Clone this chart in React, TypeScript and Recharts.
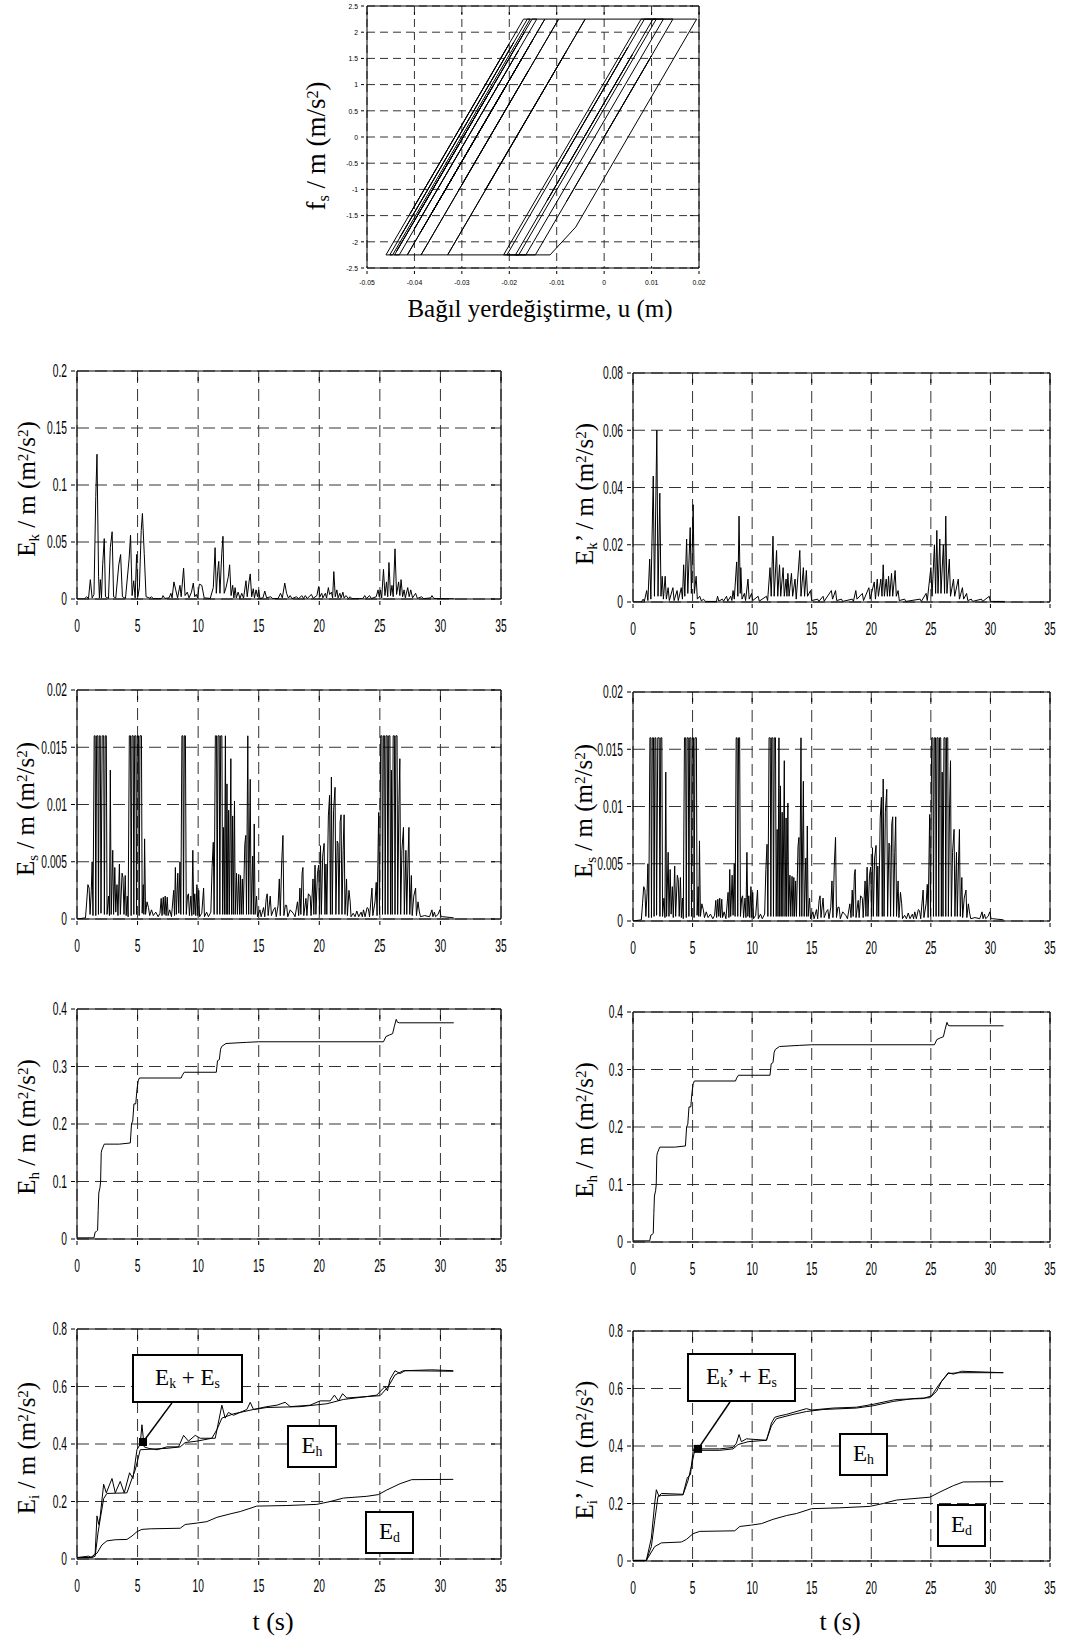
import React from 'react';
import {
  CartesianGrid,
  Line,
  LineChart,
  ReferenceArea,
  ReferenceDot,
  ReferenceLine,
  XAxis,
  YAxis,
} from 'recharts';

type Pt = [number, number];

// ---- data ----

// hysteresis turning points: u (m), fs/m (m/s2)
const hystU = [
  0, 0.01, -0.0145, -0.046, -0.02, -0.0409, -0.017, -0.0156, -0.0446, -0.0452, -0.0191, -0.0431,
  -0.0162, -0.0142, -0.04, -0.018, -0.0432, -0.0442, -0.0235, -0.0437, -0.0168, -0.0395, -0.0152,
  -0.0125, -0.0388, -0.0205, -0.0415, -0.015, -0.036, -0.0172, -0.037, -0.0125, -0.0096, -0.0386, -0.016,
  -0.03, -0.0096, -0.004, -0.033, -0.008, -0.025, -0.004, 0.0195, -0.006, -0.0114, -0.0212, 0.0078,
  0.0125, -0.0165, -0.0187, 0.006, -0.012, 0.0103, 0.011, -0.018, -0.0205, 0.005, -0.01, 0.0085, 0.0145,
  -0.008,
];
const hystF = [
  0, 1.55, -2.25, -2.25, 1.78, -1.46, 2.25, 2.25, -2.25, -2.25, 1.8, -1.92, 2.25, 2.25, -1.75, 1.66,
  -2.25, -2.25, 0.96, -2.17, 2.0, -1.52, 2.25, 2.25, -1.83, 1.0, -2.25, 1.86, -1.4, 1.52, -1.55, 2.25,
  2.25, -2.25, 1.26, -0.91, 2.25, 2.25, -2.25, 1.63, -1.0, 2.25, 2.25, -1.72, -2.25, -2.25, 2.25, 2.25,
  -2.25, -2.25, 1.58, -1.21, 2.25, 2.25, -2.25, -2.25, 1.71, -0.62, 2.25, 2.25, -1.24,
];

const timeTicks = [0, 5, 10, 15, 20, 25, 30, 35];
const hystUTicks = [-0.05, -0.04, -0.03, -0.02, -0.01, 0, 0.01, 0.02];
const hystFTicks = [-2.5, -2, -1.5, -1, -0.5, 0, 0.5, 1, 1.5, 2, 2.5];
const ekTicks = [0, 0.05, 0.1, 0.15, 0.2];
const ekpTicks = [0, 0.02, 0.04, 0.06, 0.08];
const esTicks = [0, 0.005, 0.01, 0.015, 0.02];
const ehTicks = [0, 0.1, 0.2, 0.3, 0.4];
const eiTicks = [0, 0.2, 0.4, 0.6, 0.8];

const ekPts: Pt[] = [
  [0, 0], [0.6, 0], [0.8, 0.002], [0.95, 0.0005], [1.1, 0.017], [1.25, 0.001], [1.4, 0.004], [1.55, 0.09],
  [1.65, 0.127], [1.78, 0.02], [1.85, 0.001], [1.93, 0.017], [2.02, 0.001], [2.12, 0.03], [2.25, 0.053],
  [2.35, 0.002], [2.6, 0.0005], [2.75, 0.045], [2.9, 0.059], [3.02, 0.002], [3.2, 0.001], [3.45, 0.03],
  [3.6, 0.039], [3.75, 0.002], [4.0, 0.0005], [4.3, 0.035], [4.42, 0.056], [4.55, 0.003], [4.68, 0.016],
  [4.8, 0.001], [4.92, 0.039], [5.02, 0.002], [5.15, 0.01], [5.3, 0.06], [5.4, 0.075], [5.55, 0.04],
  [5.7, 0.002], [6.0, 0.0008], [6.15, 0.002], [6.3, 0.0003], [7.0, 0.0003], [7.1, 0.003], [7.25, 0.0005],
  [7.6, 0.001], [7.75, 0.005], [7.85, 0.001], [8.0, 0.015], [8.15, 0.008], [8.3, 0.001], [8.5, 0.012],
  [8.6, 0.002], [8.8, 0.027], [8.92, 0.003], [9.1, 0.006], [9.25, 0.001], [9.45, 0.006], [9.6, 0.014],
  [9.72, 0.002], [9.85, 0.004], [9.95, 0.001], [10.1, 0.013], [10.3, 0.012], [10.5, 0.001], [11.0, 0.0005],
  [11.25, 0.01], [11.4, 0.045], [11.5, 0.005], [11.62, 0.025], [11.7, 0.033], [11.8, 0.005], [11.95, 0.04],
  [12.05, 0.055], [12.15, 0.005], [12.3, 0.01], [12.5, 0.02], [12.6, 0.03], [12.72, 0.003], [12.85, 0.012],
  [12.95, 0.001], [13.05, 0.01], [13.15, 0.001], [13.3, 0.006], [13.45, 0.0005], [13.6, 0.005],
  [13.75, 0.0008], [13.95, 0.016], [14.05, 0.002], [14.2, 0.015], [14.3, 0.022], [14.42, 0.002],
  [14.55, 0.009], [14.65, 0.001], [14.78, 0.008], [14.9, 0.002], [15.0, 0.008], [15.1, 0.0005],
  [15.35, 0.001], [15.5, 0.007], [15.65, 0.001], [16.0, 0.002], [16.15, 0.0003], [16.6, 0.0005],
  [16.8, 0.005], [16.95, 0.001], [17.15, 0.014], [17.3, 0.005], [17.45, 0.0008], [17.6, 0.003],
  [17.75, 0.0003], [18.1, 0.002], [18.3, 0.0003], [18.55, 0.003], [18.7, 0.0004], [18.85, 0.003],
  [19.0, 0.0004], [19.35, 0.004], [19.5, 0.0006], [19.8, 0.003], [19.95, 0.011], [20.05, 0.002],
  [20.2, 0.005], [20.3, 0.001], [20.5, 0.005], [20.6, 0.0008], [20.75, 0.01], [20.85, 0.004], [21.0, 0.006],
  [21.1, 0.001], [21.2, 0.024], [21.32, 0.002], [21.45, 0.008], [21.55, 0.001], [21.7, 0.005], [21.8, 0.001],
  [21.95, 0.006], [22.05, 0.0008], [22.2, 0.003], [22.4, 0.0005], [22.55, 0.002], [22.7, 0.0003],
  [23.6, 0.0003], [23.75, 0.003], [23.9, 0.0004], [24.15, 0.003], [24.3, 0.0004], [24.7, 0.002],
  [24.85, 0.008], [24.95, 0.002], [25.05, 0.008], [25.15, 0.001], [25.3, 0.026], [25.42, 0.003],
  [25.55, 0.015], [25.65, 0.002], [25.75, 0.032], [25.88, 0.003], [26.0, 0.012], [26.1, 0.002],
  [26.25, 0.044], [26.38, 0.004], [26.55, 0.015], [26.65, 0.003], [26.75, 0.017], [26.88, 0.002],
  [27.0, 0.008], [27.1, 0.001], [27.3, 0.01], [27.42, 0.002], [27.55, 0.008], [27.7, 0.001], [27.95, 0.005],
  [28.1, 0.0005], [28.45, 0.002], [28.6, 0.0003], [29.2, 0.001], [29.3, 0.003], [29.45, 0.0005],
  [30.0, 0.0003], [31.1, 0.0002],
];

const ekpPts: Pt[] = [
  [0, 0], [0.7, 0], [0.85, 0.001], [0.95, 0.0002], [1.15, 0.004], [1.25, 0.0005], [1.4, 0.015], [1.5, 0.001],
  [1.7, 0.044], [1.8, 0.002], [2.0, 0.06], [2.1, 0.002], [2.25, 0.038], [2.35, 0.002], [2.45, 0.009],
  [2.55, 0.001], [2.7, 0.009], [2.8, 0.001], [2.95, 0.005], [3.05, 0.0005], [3.35, 0.005], [3.45, 0.0005],
  [3.7, 0.004], [3.8, 0.0005], [4.05, 0.005], [4.15, 0.001], [4.25, 0.013], [4.35, 0.002], [4.5, 0.022],
  [4.6, 0.003], [4.8, 0.026], [4.9, 0.003], [5.05, 0.034], [5.15, 0.003], [5.3, 0.009], [5.4, 0.001],
  [5.6, 0.002], [5.75, 0.0003], [5.9, 0.001], [6.1, 0.0002], [7.0, 0.0002], [7.1, 0.002], [7.2, 0.0003],
  [7.5, 0.001], [7.6, 0.0003], [7.85, 0.002], [7.95, 0.0003], [8.2, 0.002], [8.3, 0.0005], [8.4, 0.004],
  [8.5, 0.001], [8.7, 0.014], [8.8, 0.002], [8.9, 0.03], [9.0, 0.003], [9.05, 0.012], [9.15, 0.001],
  [9.35, 0.003], [9.45, 0.0005], [9.65, 0.008], [9.75, 0.001], [9.95, 0.003], [10.05, 0.0005], [10.5, 0.002],
  [10.6, 0.0003], [11.2, 0.002], [11.3, 0.0005], [11.5, 0.012], [11.6, 0.002], [11.75, 0.023], [11.85, 0.002],
  [12.05, 0.018], [12.15, 0.002], [12.3, 0.013], [12.4, 0.002], [12.6, 0.012], [12.7, 0.002], [12.85, 0.008],
  [12.92, 0.002], [13.0, 0.01], [13.1, 0.002], [13.3, 0.01], [13.4, 0.002], [13.6, 0.008], [13.7, 0.001],
  [14.0, 0.018], [14.1, 0.002], [14.3, 0.012], [14.4, 0.002], [14.55, 0.011], [14.65, 0.002], [14.9, 0.004],
  [15.0, 0.0005], [15.5, 0.001], [15.6, 0.0002], [15.95, 0.002], [16.05, 0.0003], [16.65, 0.004],
  [16.75, 0.001], [17.0, 0.004], [17.1, 0.0005], [17.5, 0.001], [17.6, 0.0002], [18.4, 0.001],
  [18.5, 0.0002], [18.7, 0.004], [18.8, 0.001], [19.25, 0.003], [19.35, 0.0005], [19.8, 0.005], [19.9, 0.001],
  [20.25, 0.007], [20.35, 0.001], [20.5, 0.008], [20.6, 0.002], [20.8, 0.008], [20.9, 0.002], [21.0, 0.013],
  [21.1, 0.002], [21.25, 0.008], [21.35, 0.002], [21.45, 0.009], [21.55, 0.002], [21.7, 0.01], [21.8, 0.002],
  [22.0, 0.011], [22.1, 0.002], [22.25, 0.004], [22.35, 0.0005], [22.8, 0.001], [22.9, 0.0002],
  [24.1, 0.001], [24.2, 0.0002], [24.6, 0.003], [24.7, 0.0005], [25.0, 0.012], [25.1, 0.002], [25.3, 0.02],
  [25.4, 0.003], [25.5, 0.025], [25.6, 0.003], [25.75, 0.022], [25.85, 0.003], [26.05, 0.02], [26.15, 0.003],
  [26.25, 0.03], [26.35, 0.003], [26.55, 0.015], [26.65, 0.002], [26.9, 0.008], [27.0, 0.002], [27.3, 0.008],
  [27.4, 0.001], [27.65, 0.005], [27.75, 0.001], [28.0, 0.003], [28.1, 0.0005], [28.4, 0.001],
  [28.5, 0.0002], [29.25, 0.001], [29.35, 0.0002], [29.9, 0.002], [30.0, 0.0002], [31.2, 0.0002],
];

const esPts: Pt[] = [
  [0, 0], [0.7, 0.0001], [0.8, 0.0015], [0.9, 0.003], [1.0, 0.0027], [1.08, 0.0004], [1.18, 0.0025],
  [1.25, 0.005], [1.32, 0.0003], [1.42, 0.016], [1.5, 0.016], [1.55, 0.0003], [1.62, 0.016], [1.72, 0.016],
  [1.77, 0.0004], [1.84, 0.016], [1.92, 0.016], [1.98, 0.0005], [2.08, 0.016], [2.2, 0.016], [2.26, 0.0004],
  [2.33, 0.016], [2.42, 0.016], [2.48, 0.0004], [2.6, 0.002], [2.68, 0.0003], [2.75, 0.013], [2.82, 0.0004],
  [2.95, 0.006], [3.02, 0.0004], [3.12, 0.0045], [3.2, 0.0006], [3.3, 0.003], [3.38, 0.0003], [3.5, 0.0048],
  [3.58, 0.0004], [3.72, 0.004], [3.8, 0.0036], [3.88, 0.0004], [3.98, 0.0038], [4.06, 0.0003], [4.15, 0.002],
  [4.22, 0.0002], [4.32, 0.016], [4.42, 0.016], [4.47, 0.0003], [4.54, 0.016], [4.64, 0.016], [4.69, 0.0004],
  [4.76, 0.016], [4.86, 0.016], [4.91, 0.0004], [4.98, 0.016], [5.08, 0.016], [5.13, 0.0003], [5.2, 0.016],
  [5.32, 0.016], [5.38, 0.0005], [5.47, 0.003], [5.52, 0.0004], [5.58, 0.007], [5.66, 0.0004], [5.78, 0.0015],
  [5.9, 0.001], [6.0, 0.0003], [6.15, 0.0008], [6.3, 0.0003], [6.5, 0.0006], [6.7, 0.0002], [6.85, 0.0005],
  [6.95, 0.0018], [7.02, 0.0003], [7.12, 0.0019], [7.2, 0.0004], [7.28, 0.002], [7.35, 0.0003],
  [7.45, 0.0019], [7.52, 0.0003], [7.65, 0.0008], [7.8, 0.0002], [7.98, 0.0025], [8.05, 0.0003],
  [8.12, 0.0045], [8.2, 0.0004], [8.32, 0.004], [8.4, 0.0005], [8.5, 0.005], [8.57, 0.0004], [8.66, 0.016],
  [8.74, 0.016], [8.79, 0.0004], [8.86, 0.016], [8.95, 0.016], [9.02, 0.0004], [9.12, 0.002], [9.2, 0.0022],
  [9.28, 0.0003], [9.4, 0.002], [9.48, 0.0003], [9.56, 0.006], [9.64, 0.0004], [9.72, 0.0022], [9.8, 0.0003],
  [9.9, 0.003], [9.97, 0.0003], [10.05, 0.0025], [10.12, 0.0002], [10.3, 0.0005], [10.45, 0.0027],
  [10.52, 0.0002], [10.7, 0.0006], [10.85, 0.0002], [11.05, 0.0006], [11.15, 0.0045], [11.25, 0.0067],
  [11.32, 0.0004], [11.42, 0.016], [11.52, 0.016], [11.57, 0.0004], [11.64, 0.016], [11.74, 0.016],
  [11.79, 0.0004], [11.86, 0.016], [11.96, 0.016], [12.02, 0.0004], [12.1, 0.008], [12.17, 0.0004],
  [12.25, 0.016], [12.31, 0.0004], [12.38, 0.0118], [12.44, 0.0004], [12.52, 0.0095], [12.58, 0.0004],
  [12.7, 0.014], [12.76, 0.0004], [12.85, 0.009], [12.9, 0.0004], [13.0, 0.0103], [13.06, 0.0004],
  [13.17, 0.004], [13.24, 0.0004], [13.35, 0.0039], [13.42, 0.0004], [13.5, 0.0038], [13.56, 0.0004],
  [13.65, 0.0035], [13.72, 0.0004], [13.85, 0.0065], [13.93, 0.0073], [13.99, 0.0004], [14.1, 0.016],
  [14.17, 0.0004], [14.3, 0.0122], [14.37, 0.0004], [14.5, 0.0055], [14.56, 0.0004], [14.63, 0.0083],
  [14.7, 0.0004], [14.82, 0.002], [14.9, 0.0002], [15.1, 0.0008], [15.2, 0.0002], [15.4, 0.001],
  [15.5, 0.0002], [15.62, 0.0018], [15.7, 0.0022], [15.78, 0.0003], [15.95, 0.002], [16.05, 0.0003],
  [16.22, 0.0008], [16.35, 0.001], [16.45, 0.0002], [16.6, 0.0012], [16.7, 0.0035], [16.78, 0.0003],
  [16.9, 0.005], [17.0, 0.0073], [17.08, 0.0003], [17.2, 0.0012], [17.3, 0.0012], [17.4, 0.0002],
  [17.6, 0.0008], [17.85, 0.0005], [18.0, 0.0002], [18.2, 0.0015], [18.3, 0.0003], [18.4, 0.0027],
  [18.48, 0.0004], [18.58, 0.004], [18.65, 0.0045], [18.72, 0.0003], [18.9, 0.0018], [18.98, 0.0003],
  [19.1, 0.0022], [19.25, 0.002], [19.32, 0.0003], [19.48, 0.0035], [19.55, 0.0004], [19.65, 0.0047],
  [19.72, 0.0004], [19.85, 0.004], [19.95, 0.0047], [20.02, 0.0004], [20.1, 0.0064], [20.17, 0.0004],
  [20.28, 0.0055], [20.4, 0.0066], [20.47, 0.0004], [20.55, 0.0048], [20.62, 0.0004], [20.75, 0.009],
  [20.85, 0.0108], [20.92, 0.0004], [21.0, 0.0124], [21.07, 0.0004], [21.18, 0.0095], [21.3, 0.0115],
  [21.37, 0.0004], [21.48, 0.0068], [21.55, 0.0066], [21.62, 0.0004], [21.72, 0.0085], [21.8, 0.0091],
  [21.87, 0.0004], [21.97, 0.006], [22.05, 0.0091], [22.12, 0.0004], [22.25, 0.0035], [22.32, 0.0003],
  [22.45, 0.0025], [22.55, 0.0015], [22.62, 0.0002], [22.8, 0.0005], [22.95, 0.0002], [23.1, 0.0007],
  [23.25, 0.0002], [23.45, 0.0006], [23.55, 0.0002], [23.65, 0.0008], [23.78, 0.0002], [23.95, 0.001],
  [24.05, 0.0009], [24.15, 0.0002], [24.35, 0.0027], [24.42, 0.0003], [24.6, 0.0015], [24.7, 0.0032],
  [24.77, 0.0003], [24.9, 0.0093], [24.97, 0.0004], [25.07, 0.016], [25.17, 0.016], [25.22, 0.0004],
  [25.29, 0.016], [25.39, 0.016], [25.44, 0.0004], [25.51, 0.016], [25.61, 0.016], [25.66, 0.0004],
  [25.73, 0.016], [25.83, 0.016], [25.88, 0.0004], [25.95, 0.013], [26.02, 0.0004], [26.1, 0.016],
  [26.2, 0.016], [26.25, 0.0004], [26.32, 0.016], [26.42, 0.016], [26.47, 0.0004], [26.57, 0.01],
  [26.65, 0.014], [26.72, 0.0004], [26.82, 0.006], [26.95, 0.008], [27.02, 0.0004], [27.15, 0.006],
  [27.22, 0.0004], [27.32, 0.005], [27.4, 0.008], [27.47, 0.0004], [27.6, 0.0038], [27.67, 0.0003],
  [27.8, 0.002], [27.95, 0.0027], [28.02, 0.0003], [28.15, 0.0015], [28.25, 0.0007], [28.35, 0.0002],
  [28.7, 0.0003], [29.1, 0.0002], [29.3, 0.0008], [29.38, 0.0002], [29.5, 0.0006], [29.6, 0.0002],
  [29.8, 0.0004], [29.95, 0.0008], [30.05, 0.0002], [30.2, 0.0002], [31.1, 0.0001],
];

const ehPts: Pt[] = [
  [0, 0.002], [1.4, 0.002], [1.5, 0.012], [1.6, 0.013], [1.7, 0.015], [1.75, 0.05], [1.8, 0.08], [1.9, 0.09],
  [1.95, 0.1], [2.0, 0.15], [2.05, 0.155], [2.15, 0.16], [2.25, 0.165], [3.5, 0.165], [4.4, 0.167],
  [4.5, 0.2], [4.6, 0.205], [4.7, 0.235], [4.85, 0.235], [4.95, 0.26], [5.05, 0.275], [5.15, 0.28],
  [8.6, 0.28], [8.7, 0.285], [8.85, 0.29], [11.5, 0.29], [11.6, 0.31], [11.75, 0.312], [11.85, 0.33],
  [11.95, 0.335], [12.3, 0.34], [14.0, 0.342], [15.0, 0.343], [25.3, 0.343], [25.5, 0.352], [25.8, 0.355],
  [26.05, 0.357], [26.2, 0.37], [26.35, 0.382], [26.45, 0.377], [26.6, 0.376], [31.1, 0.376],
];

// input energy plots (left: Ek + Es, right: Ek' + Es)
const edLeft: Pt[] = [
  [0, 0.005], [1.1, 0.005], [1.65, 0.02], [2.06, 0.049], [2.47, 0.063], [3.16, 0.067], [4.12, 0.068],
  [4.54, 0.08], [4.95, 0.095], [5.36, 0.103], [6.05, 0.105], [8.52, 0.107], [8.93, 0.12], [9.9, 0.125],
  [10.72, 0.13], [11.55, 0.145], [12.65, 0.157], [13.47, 0.165], [14.84, 0.184], [17.32, 0.186],
  [19.79, 0.19], [20.9, 0.2], [22.0, 0.212], [23.92, 0.218], [24.88, 0.224], [25.57, 0.24], [26.67, 0.262],
  [27.63, 0.276], [31.06, 0.277],
];
const ehdLeft: Pt[] = [
  [0, 0.005], [1.24, 0.005], [1.5, 0.01], [1.73, 0.09], [1.92, 0.14], [2.2, 0.21], [2.47, 0.228],
  [4.12, 0.23], [4.54, 0.28], [4.81, 0.31], [5.22, 0.38], [7.42, 0.385], [8.52, 0.39], [8.93, 0.405],
  [9.9, 0.41], [11.13, 0.42], [11.55, 0.45], [11.96, 0.49], [12.92, 0.505], [14.57, 0.52], [15.67, 0.527],
  [18.42, 0.53], [20.62, 0.54], [22.0, 0.555], [23.92, 0.565], [25.02, 0.568], [25.7, 0.6], [26.25, 0.64],
  [26.94, 0.655], [31.06, 0.653],
];
const eiLeft: Pt[] = [
  [0, 0.005], [0.96, 0.01], [1.24, 0.005], [1.5, 0.02], [1.65, 0.15], [1.79, 0.12], [1.92, 0.15],
  [2.2, 0.26], [2.42, 0.23], [2.89, 0.28], [3.16, 0.23], [3.57, 0.27], [3.9, 0.23], [4.34, 0.3],
  [4.62, 0.28], [4.95, 0.38], [5.22, 0.4], [5.36, 0.467], [5.55, 0.39], [5.9, 0.385], [6.6, 0.38],
  [7.42, 0.39], [8.38, 0.39], [8.8, 0.43], [9.2, 0.41], [9.76, 0.43], [10.17, 0.42], [11.0, 0.42],
  [11.41, 0.42], [11.96, 0.535], [12.23, 0.49], [12.5, 0.51], [12.92, 0.5], [13.47, 0.51], [14.02, 0.52],
  [14.3, 0.545], [14.57, 0.52], [15.67, 0.53], [16.5, 0.535], [17.18, 0.545], [17.6, 0.53], [19.24, 0.535],
  [20.07, 0.55], [20.9, 0.55], [21.25, 0.57], [21.58, 0.55], [21.93, 0.575], [22.27, 0.56], [23.92, 0.565],
  [24.74, 0.57], [25.43, 0.6], [25.63, 0.585], [25.84, 0.625], [26.25, 0.655], [26.67, 0.645],
  [27.08, 0.655], [29.28, 0.658], [31.06, 0.655],
];

const edRight: Pt[] = [
  [0, 0.002], [1.12, 0.002], [1.82, 0.05], [2.38, 0.063], [4.06, 0.066], [4.48, 0.075], [5.04, 0.095],
  [5.6, 0.103], [8.54, 0.105], [8.96, 0.12], [9.94, 0.125], [10.78, 0.13], [11.76, 0.145], [12.88, 0.158],
  [13.72, 0.165], [14.98, 0.182], [17.36, 0.185], [19.88, 0.19], [21.0, 0.2], [22.12, 0.212],
  [24.92, 0.222], [25.76, 0.24], [26.88, 0.262], [27.72, 0.275], [31.08, 0.276],
];
const ehdRight: Pt[] = [
  [0, 0.002], [1.12, 0.002], [1.54, 0.05], [1.82, 0.14], [2.1, 0.225], [2.38, 0.228], [4.2, 0.23],
  [4.62, 0.28], [4.9, 0.33], [5.18, 0.385], [7.28, 0.385], [8.4, 0.39], [8.82, 0.405], [9.66, 0.415],
  [11.2, 0.42], [11.62, 0.47], [12.04, 0.495], [13.44, 0.51], [14.56, 0.52], [15.96, 0.527], [18.76, 0.532],
  [20.16, 0.54], [21.84, 0.555], [23.52, 0.565], [24.92, 0.568], [25.48, 0.59], [25.9, 0.625],
  [26.46, 0.652], [27.44, 0.655], [31.08, 0.655],
];
const eiRight: Pt[] = [
  [0, 0.002], [1.12, 0.002], [1.54, 0.08], [1.82, 0.2], [1.96, 0.248], [2.18, 0.225], [2.38, 0.235],
  [4.2, 0.232], [4.56, 0.29], [4.82, 0.3], [5.04, 0.38], [5.18, 0.4], [5.46, 0.39], [7.28, 0.39],
  [8.4, 0.395], [8.68, 0.41], [8.9, 0.44], [9.1, 0.415], [9.52, 0.425], [11.2, 0.42], [11.62, 0.48],
  [11.9, 0.5], [12.32, 0.505], [12.88, 0.51], [14.56, 0.53], [14.98, 0.525], [16.8, 0.532], [18.76, 0.535],
  [20.16, 0.545], [21.84, 0.56], [22.26, 0.562], [24.36, 0.565], [25.06, 0.575], [25.62, 0.61],
  [26.18, 0.64], [26.46, 0.655], [26.88, 0.65], [27.58, 0.66], [31.08, 0.655],
];

// ---- drawing ----

const SERIF = "'Liberation Serif', 'Times New Roman', serif";
const SANS = "'Liberation Sans', Arial, sans-serif";
const PAD_L = 70;
const PAD_T = 12;
const PAD_R = 12;
const PAD_B = 40;

const fmt = (v: number) => String(parseFloat(v.toFixed(4)));

type TickStyle = { fs: number; sx: number; xGap: number; yGap: number; len: number };
const bigTicks: TickStyle = { fs: 18, sx: 0.57, xGap: 27, yGap: 4, len: 4 };
const smallTicks: TickStyle = { fs: 8, sx: 0.85, xGap: 11, yGap: 3, len: 3 };

function xTick(plotH: number, s: TickStyle) {
  return (props: any) => {
    const { x, y, payload } = props;
    return (
      <g>
        <line x1={x} x2={x} y1={y} y2={y - s.len} stroke="#000" />
        <line x1={x} x2={x} y1={y - plotH} y2={y - plotH + s.len} stroke="#000" />
        <text
          transform={`translate(${x} ${y + s.xGap}) scale(${s.sx} 1)`}
          textAnchor="middle"
          fontSize={s.fs}
          fontFamily={SANS}
          fill="#000"
        >
          {fmt(payload.value)}
        </text>
      </g>
    );
  };
}

function yTick(plotW: number, s: TickStyle) {
  return (props: any) => {
    const { x, y, payload } = props;
    return (
      <g>
        <line x1={x} x2={x + s.len} y1={y} y2={y} stroke="#000" />
        <line x1={x + plotW} x2={x + plotW - s.len} y1={y} y2={y} stroke="#000" />
        <text
          transform={`translate(${x - s.yGap} ${y + s.fs * 0.36}) scale(${s.sx} 1)`}
          textAnchor="end"
          fontSize={s.fs}
          fontFamily={SANS}
          fill="#000"
        >
          {fmt(payload.value)}
        </text>
      </g>
    );
  };
}

type PanelProps = {
  box: [number, number, number, number];
  xDomain: [number, number];
  xTicks: number[];
  yDomain: [number, number];
  yTicks: number[];
  series: Pt[][];
  ticks?: TickStyle;
  dash?: string;
  extra?: React.ReactNode;
};

function Panel({ box, xDomain, xTicks, yDomain, yTicks, series, ticks = bigTicks, dash = '12 6', extra }: PanelProps) {
  const [L, T, W, H] = box;
  return (
    <div style={{ position: 'absolute', left: L - PAD_L, top: T - PAD_T }}>
      <LineChart
        width={W + PAD_L + PAD_R}
        height={H + PAD_T + PAD_B}
        margin={{ top: PAD_T, right: PAD_R, bottom: 0, left: 0 }}
      >
        <CartesianGrid stroke="#333" strokeDasharray={dash} />
        <XAxis
          type="number"
          dataKey="x"
          domain={xDomain}
          ticks={xTicks}
          interval={0}
          allowDataOverflow
          height={PAD_B}
          tickLine={false}
          axisLine={false}
          tickMargin={0}
          tick={xTick(H, ticks)}
        />
        <YAxis
          type="number"
          domain={yDomain}
          ticks={yTicks}
          interval={0}
          allowDataOverflow
          width={PAD_L}
          tickLine={false}
          axisLine={false}
          tickMargin={0}
          tick={yTick(W, ticks)}
        />
        {series.map((pts, i) => (
          <Line
            key={i}
            data={pts.map(([x, y]) => ({ x, y }))}
            dataKey="y"
            type="linear"
            stroke="#000"
            strokeWidth={1}
            dot={false}
            isAnimationActive={false}
          />
        ))}
        <ReferenceArea
          x1={xDomain[0]}
          x2={xDomain[1]}
          y1={yDomain[0]}
          y2={yDomain[1]}
          fill="none"
          fillOpacity={0}
          stroke="#000"
          strokeWidth={1}
          ifOverflow="visible"
        />
        {extra}
      </LineChart>
    </div>
  );
}

function YLabel({ cx, cy, size = 25, children }: { cx: number; cy: number; size?: number; children: React.ReactNode }) {
  return (
    <div
      style={{
        position: 'absolute',
        left: cx,
        top: cy,
        transform: 'translate(-50%, -50%) rotate(-90deg)',
        whiteSpace: 'nowrap',
        fontFamily: SERIF,
        fontSize: size,
        lineHeight: 1,
      }}
    >
      {children}
    </div>
  );
}

function TextAt({ cx, cy, size = 26, children }: { cx: number; cy: number; size?: number; children: React.ReactNode }) {
  return (
    <div
      style={{
        position: 'absolute',
        left: cx,
        top: cy,
        transform: 'translate(-50%, -50%)',
        whiteSpace: 'nowrap',
        fontFamily: SERIF,
        fontSize: size,
        lineHeight: 1,
      }}
    >
      {children}
    </div>
  );
}

function NoteBox({ l, t, w, h, children }: { l: number; t: number; w: number; h: number; children: React.ReactNode }) {
  return (
    <div
      style={{
        position: 'absolute',
        left: l,
        top: t,
        width: w,
        height: h,
        boxSizing: 'border-box',
        border: '2px solid #000',
        background: '#fff',
        display: 'flex',
        alignItems: 'center',
        justifyContent: 'center',
        fontFamily: SERIF,
        fontSize: 23,
        whiteSpace: 'nowrap',
      }}
    >
      <span style={{ lineHeight: 1 }}>{children}</span>
    </div>
  );
}

const sub = (s: string) => <sub style={{ fontSize: '0.6em', verticalAlign: '-0.25em' }}>{s}</sub>;
const sup = (s: string) => <sup style={{ fontSize: '0.6em', verticalAlign: '0.45em' }}>{s}</sup>;
const unit = <>(m{sup('2')}/s{sup('2')})</>;

function pointer(from: Pt, to: Pt) {
  return [
    <ReferenceLine
      key="seg"
      segment={[{ x: from[0], y: from[1] }, { x: to[0], y: to[1] }]}
      stroke="#000"
      strokeWidth={1.5}
      ifOverflow="visible"
    />,
    <ReferenceDot
      key="dot"
      x={from[0]}
      y={from[1]}
      r={4}
      ifOverflow="visible"
      shape={(p: any) => <rect x={p.cx - 4} y={p.cy - 4} width={8} height={8} fill="#000" />}
    />,
  ];
}

export default function App() {
  const hystPts: Pt[] = hystU.map((u, i) => [u, hystF[i]]);
  const L1 = 77;
  const W1 = 424;
  const L2 = 633;
  const W2 = 417;
  return (
    <div style={{ position: 'absolute', left: 0, top: 0, width: 1078, height: 1640, background: '#fff' }}>
      <Panel
        box={[367, 6, 332, 262]}
        xDomain={[-0.05, 0.02]}
        xTicks={hystUTicks}
        yDomain={[-2.5, 2.5]}
        yTicks={hystFTicks}
        series={[hystPts]}
        ticks={smallTicks}
        dash="8 5"
      />
      <YLabel cx={318} cy={146} size={27}>
        f{sub('s')} / m (m/s{sup('2')})
      </YLabel>
      <TextAt cx={540} cy={308} size={25}>
        Bağıl yerdeğiştirme, u (m)
      </TextAt>

      <Panel box={[L1, 371, W1, 228]} xDomain={[0, 35]} xTicks={timeTicks} yDomain={[0, 0.2]} yTicks={ekTicks} series={[ekPts]} />
      <YLabel cx={28} cy={489}>E{sub('k')} / m {unit}</YLabel>
      <Panel box={[L2, 373, W2, 229]} xDomain={[0, 35]} xTicks={timeTicks} yDomain={[0, 0.08]} yTicks={ekpTicks} series={[ekpPts]} />
      <YLabel cx={586} cy={494}>E{sub('k')}’ / m {unit}</YLabel>

      <Panel box={[L1, 690, W1, 229]} xDomain={[0, 35]} xTicks={timeTicks} yDomain={[0, 0.02]} yTicks={esTicks} series={[esPts]} />
      <YLabel cx={27} cy={809}>E{sub('s')} / m {unit}</YLabel>
      <Panel box={[L2, 692, W2, 229]} xDomain={[0, 35]} xTicks={timeTicks} yDomain={[0, 0.02]} yTicks={esTicks} series={[esPts]} />
      <YLabel cx={585} cy={811}>E{sub('s')} / m {unit}</YLabel>

      <Panel box={[L1, 1009, W1, 230]} xDomain={[0, 35]} xTicks={timeTicks} yDomain={[0, 0.4]} yTicks={ehTicks} series={[ehPts]} />
      <YLabel cx={28} cy={1127}>E{sub('h')} / m {unit}</YLabel>
      <Panel box={[L2, 1012, W2, 230]} xDomain={[0, 35]} xTicks={timeTicks} yDomain={[0, 0.4]} yTicks={ehTicks} series={[ehPts]} />
      <YLabel cx={586} cy={1130}>E{sub('h')} / m {unit}</YLabel>

      <Panel
        box={[L1, 1329, W1, 230]}
        xDomain={[0, 35]}
        xTicks={timeTicks}
        yDomain={[0, 0.8]}
        yTicks={eiTicks}
        series={[edLeft, ehdLeft, eiLeft]}
        extra={pointer([5.45, 0.407], [7.84, 0.543])}
      />
      <YLabel cx={28} cy={1448}>E{sub('i')} / m {unit}</YLabel>
      <NoteBox l={132} t={1354} w={111} h={49}>E{sub('k')} + E{sub('s')}</NoteBox>
      <NoteBox l={287} t={1425} w={50} h={43}>E{sub('h')}</NoteBox>
      <NoteBox l={365} t={1511} w={49} h={43}>E{sub('d')}</NoteBox>
      <TextAt cx={273} cy={1622}>t (s)</TextAt>

      <Panel
        box={[L2, 1331, W2, 230]}
        xDomain={[0, 35]}
        xTicks={timeTicks}
        yDomain={[0, 0.8]}
        yTicks={eiTicks}
        series={[edRight, ehdRight, eiRight]}
        extra={pointer([5.46, 0.39], [8.14, 0.553])}
      />
      <YLabel cx={586} cy={1450}>E{sub('i')}’ / m {unit}</YLabel>
      <NoteBox l={687} t={1353} w={109} h={49}>E{sub('k')}’ + E{sub('s')}</NoteBox>
      <NoteBox l={839} t={1433} w={49} h={43}>E{sub('h')}</NoteBox>
      <NoteBox l={937} t={1504} w={49} h={43}>E{sub('d')}</NoteBox>
      <TextAt cx={840} cy={1622}>t (s)</TextAt>
    </div>
  );
}
